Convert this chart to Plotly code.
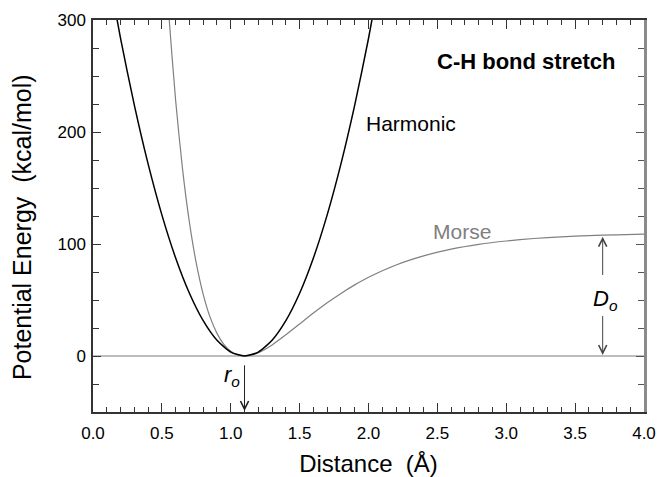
import plotly.graph_objects as go

# Harmonic potential (kcal/mol)
harm_r = [0.1, 0.2, 0.3, 0.4, 0.5, 0.6, 0.7, 0.8, 0.9, 1.0, 1.1,
          1.2, 1.3, 1.4, 1.5, 1.6, 1.7, 1.8, 1.9, 2.0, 2.1]
harm_e = [350, 283.5, 224, 171.5, 126, 87.5, 56, 31.5, 14, 3.5, 0,
          3.5, 14, 31.5, 56, 87.5, 126, 171.5, 224, 283.5, 350]

# Morse potential (kcal/mol)
morse_r = [0.5, 0.55, 0.6, 0.65, 0.7, 0.75, 0.8, 0.85, 0.9, 0.95, 1.0, 1.05, 1.1,
           1.15, 1.2, 1.3, 1.4, 1.5, 1.6, 1.7, 1.8, 1.9, 2.0, 2.2, 2.4, 2.6,
           2.8, 3.0, 3.2, 3.4, 3.6, 3.8, 4.0]
morse_e = [403.8, 305.8, 228.0, 166.9, 119.3, 82.7, 55.1, 34.7, 20.2, 10.4, 4.2, 0.96, 0,
           0.8, 2.9, 9.9, 18.9, 28.6, 38.3, 47.5, 55.9, 63.5, 70.3, 81.3, 89.4, 95.4,
           99.7, 102.7, 104.9, 106.4, 107.5, 108.2, 108.8]

r0 = 1.1
D0 = 108

FONT = "Liberation Sans, Arial, Helvetica, sans-serif"

fig = go.Figure()
fig.add_trace(go.Scatter(x=morse_r, y=morse_e, mode="lines",
                         line=dict(color="#808080", width=1.2, shape="spline", smoothing=0.6),
                         hoverinfo="skip", showlegend=False))
fig.add_trace(go.Scatter(x=harm_r, y=harm_e, mode="lines",
                         line=dict(color="#000000", width=1.5, shape="spline", smoothing=0.6),
                         hoverinfo="skip", showlegend=False))
fig.add_trace(go.Scatter(x=[None], y=[None], xaxis="x2", yaxis="y2",
                         hoverinfo="skip", showlegend=False))

fig.update_layout(
    width=659, height=477,
    margin=dict(l=93, r=15, t=20, b=65),
    paper_bgcolor="white", plot_bgcolor="white",
    font=dict(family=FONT, color="#000000"),
    xaxis=dict(range=[0, 4], dtick=0.5, tick0=0, tickformat=".1f", automargin=False,
               ticks="inside", ticklen=9, tickcolor="#333", tickwidth=1,
               showline=True, linecolor="#333", linewidth=1.5,
               showgrid=False, zeroline=False, ticklabelstandoff=5,
               minor=dict(dtick=0.1, ticks="inside", ticklen=5, tickcolor="#333", showgrid=False),
               tickfont=dict(size=17, family=FONT),
               title=dict(text="Distance  (Å)", font=dict(size=24, family=FONT), standoff=16)),
    yaxis=dict(range=[-50, 300], dtick=100, tick0=0, automargin=False,
               ticks="inside", ticklen=8, tickcolor="#333", tickwidth=1,
               showline=True, linecolor="#333", linewidth=1.5,
               showgrid=False, zeroline=True, zerolinecolor="#bdbdbd", zerolinewidth=1.5,
               ticklabelstandoff=2,
               minor=dict(dtick=25, ticks="inside", ticklen=6, tickcolor="#333", showgrid=False),
               tickfont=dict(size=17, family=FONT)),
    xaxis2=dict(overlaying="x", side="top", range=[0, 4], dtick=0.5, tick0=0, automargin=False,
                ticks="inside", ticklen=9, tickcolor="#333",
                showline=True, linecolor="#333", linewidth=1.5,
                showgrid=False, zeroline=False, showticklabels=False,
                minor=dict(dtick=0.1, ticks="inside", ticklen=5, tickcolor="#333", showgrid=False)),
    yaxis2=dict(overlaying="y", side="right", range=[-50, 300], dtick=100, tick0=0, automargin=False,
                ticks="inside", ticklen=8, tickcolor="#555",
                showline=True, linecolor="#8a8a8a", linewidth=2.5,
                showgrid=False, zeroline=False, showticklabels=False,
                minor=dict(dtick=25, ticks="inside", ticklen=6, tickcolor="#555", showgrid=False)),
)

ann = []
# y-axis title
ann.append(dict(x=-0.129, y=115, xref="paper", yref="y", text="Potential Energy  (kcal/mol)",
                textangle=-90, showarrow=False, xanchor="center", yanchor="middle",
                font=dict(size=25, family=FONT, color="#000")))
ann.append(dict(x=3.14, y=263, xref="x", yref="y", text="<b>C-H bond stretch</b>",
                showarrow=False, font=dict(size=22, family=FONT, color="#000")))
ann.append(dict(x=2.31, y=208, xref="x", yref="y", text="Harmonic",
                showarrow=False, font=dict(size=21, family=FONT, color="#000")))
ann.append(dict(x=2.676, y=111, xref="x", yref="y", text="Morse",
                showarrow=False, font=dict(size=21, family=FONT, color="#808080")))
ann.append(dict(x=3.72, y=50, xref="x", yref="y", text="<i>D<sub>o</sub></i>",
                showarrow=False, font=dict(size=22, family=FONT, color="#000")))
ann.append(dict(x=1.01, y=-18, xref="x", yref="y", text="<i>r<sub>o</sub></i>",
                showarrow=False, font=dict(size=22, family=FONT, color="#000")))
# arrows
ann.append(dict(x=r0, y=-49, ax=r0, ay=-7, xref="x", yref="y", axref="x", ayref="y",
                text="", showarrow=True, arrowhead=5, arrowsize=1.6, arrowwidth=1,
                arrowcolor="#222", standoff=0, startstandoff=0))
ann.append(dict(x=3.7, y=D0 - 1.5, ax=3.7, ay=71, xref="x", yref="y", axref="x", ayref="y",
                text="", showarrow=True, arrowhead=5, arrowsize=1.6, arrowwidth=1,
                arrowcolor="#444", standoff=0, startstandoff=0))
ann.append(dict(x=3.7, y=1, ax=3.7, ay=37, xref="x", yref="y", axref="x", ayref="y",
                text="", showarrow=True, arrowhead=5, arrowsize=1.6, arrowwidth=1,
                arrowcolor="#444", standoff=0, startstandoff=0))
fig.update_layout(annotations=ann)

fig.write_html("out.html")
